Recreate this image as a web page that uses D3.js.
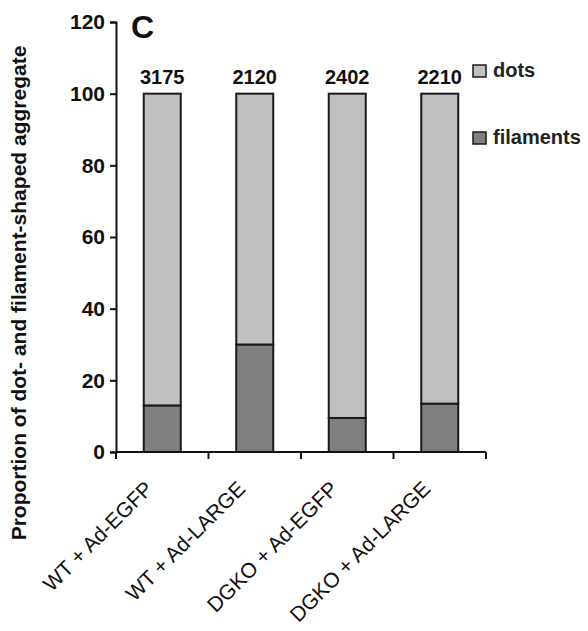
<!DOCTYPE html>
<html lang="en">
<head>
    <meta charset="UTF-8">
    <title>Proportion of dot- and filament-shaped aggregate</title>
    <script src="https://d3js.org/d3.v7.min.js"></script>
    <style>
        body { margin: 0; background: #fff; }
        text { font-family: Arial, "Liberation Sans", sans-serif; }
    </style>
</head>
<body>
<script>
    // data
    var groups = ["WT + Ad-EGFP", "WT + Ad-LARGE", "DGKO + Ad-EGFP", "DGKO + Ad-LARGE"];
    var filaments = [13, 30, 9.5, 13.5];
    var dots = [87, 70, 90.5, 86.5];
    var counts = ["3175", "2120", "2402", "2210"];
    var yTicks = [0, 20, 40, 60, 80, 100, 120];
    var seriesNames = ["dots", "filaments"];
    var seriesColors = ["#c0c0c0", "#808080"];

    var width = 588, height = 631;
    // note: "top" is reserved on window, so use plot* names
    var plotLeft = 116, plotRight = 486, plotTop = 22, plotBottom = 452;

    var svg = d3.select("body").append("svg")
        .attr("width", width)
        .attr("height", height);

    var x = d3.scaleBand()
        .domain(groups)
        .range([plotLeft, plotRight])
        .paddingInner(0.6)
        .paddingOuter(0.3);

    var y = d3.scaleLinear()
        .domain([0, 120])
        .range([plotBottom, plotTop]);

    var rows = groups.map(function(g, i) {
        return { group: g, filaments: filaments[i], dots: dots[i], count: counts[i] };
    });

    var stack = d3.stack().keys(["filaments", "dots"]);
    var layers = stack(rows);
    var colorOf = { dots: seriesColors[0], filaments: seriesColors[1] };

    // bars
    svg.append("g").selectAll("g")
        .data(layers)
        .enter().append("g")
        .attr("fill", function(d) { return colorOf[d.key]; })
        .selectAll("rect")
        .data(function(d) { return d; })
        .enter().append("rect")
        .attr("x", function(d) { return x(d.data.group); })
        .attr("width", x.bandwidth())
        .attr("y", function(d) { return y(d[1]); })
        .attr("height", function(d) { return y(d[0]) - y(d[1]); })
        .attr("stroke", "#1a1a1a")
        .attr("stroke-width", 2);

    // y axis
    var yAxis = svg.append("g")
        .attr("transform", "translate(" + plotLeft + ",0)")
        .call(d3.axisLeft(y).tickValues(yTicks).tickSize(6).tickPadding(5));
    yAxis.select(".domain").attr("stroke", "#111").attr("stroke-width", 2);
    yAxis.selectAll(".tick line").attr("stroke", "#111").attr("stroke-width", 2);
    yAxis.selectAll(".tick text")
        .attr("font-size", 21)
        .attr("font-weight", "bold")
        .attr("fill", "#111")
        .style("font-family", "Arial, 'Liberation Sans', sans-serif");

    // x axis: ticks at band boundaries
    var xAxisG = svg.append("g");
    xAxisG.append("line")
        .attr("x1", plotLeft).attr("x2", plotRight)
        .attr("y1", plotBottom).attr("y2", plotBottom)
        .attr("stroke", "#111").attr("stroke-width", 2);
    var bounds = d3.range(groups.length + 1).map(function(i) {
        return plotLeft + i * (plotRight - plotLeft) / groups.length;
    });
    xAxisG.selectAll(".xtick")
        .data(bounds)
        .enter().append("line")
        .attr("x1", function(d) { return d; })
        .attr("x2", function(d) { return d; })
        .attr("y1", plotBottom)
        .attr("y2", plotBottom + 7)
        .attr("stroke", "#111").attr("stroke-width", 2);

    // x labels, rotated
    svg.append("g").selectAll("text")
        .data(groups)
        .enter().append("text")
        .attr("transform", function(d) {
            return "translate(" + (x(d) + x.bandwidth() / 2 - 8) + "," + (plotBottom + 38) + ") rotate(-45)";
        })
        .attr("text-anchor", "end")
        .attr("font-size", 21)
        .attr("fill", "#111")
        .text(function(d) { return d; });

    // count labels above bars
    svg.append("g").selectAll("text")
        .data(rows)
        .enter().append("text")
        .attr("x", function(d) { return x(d.group) + x.bandwidth() / 2; })
        .attr("y", y(100) - 10)
        .attr("text-anchor", "middle")
        .attr("font-size", 20)
        .attr("font-weight", "bold")
        .attr("fill", "#111")
        .text(function(d) { return d.count; });

    // panel letter
    svg.append("text")
        .attr("x", 131)
        .attr("y", 38)
        .attr("font-size", 32)
        .attr("font-weight", "bold")
        .attr("fill", "#111")
        .text("C");

    // y title
    svg.append("text")
        .attr("transform", "translate(26,293) rotate(-90)")
        .attr("text-anchor", "middle")
        .attr("font-size", 21)
        .attr("font-weight", "bold")
        .attr("fill", "#111")
        .text("Proportion of dot- and filament-shaped aggregate");

    // legend
    var legend = svg.append("g").selectAll("g")
        .data(seriesNames)
        .enter().append("g")
        .attr("transform", function(d, i) { return "translate(473," + (65 + i * 67) + ")"; });
    legend.append("rect")
        .attr("width", 13).attr("height", 12)
        .attr("fill", function(d, i) { return seriesColors[i]; })
        .attr("stroke", "#1a1a1a").attr("stroke-width", 1.5);
    legend.append("text")
        .attr("x", 20)
        .attr("y", 12)
        .attr("font-size", 20)
        .attr("font-weight", "bold")
        .attr("fill", "#222")
        .text(function(d) { return d; });
</script>
</body>
</html>
